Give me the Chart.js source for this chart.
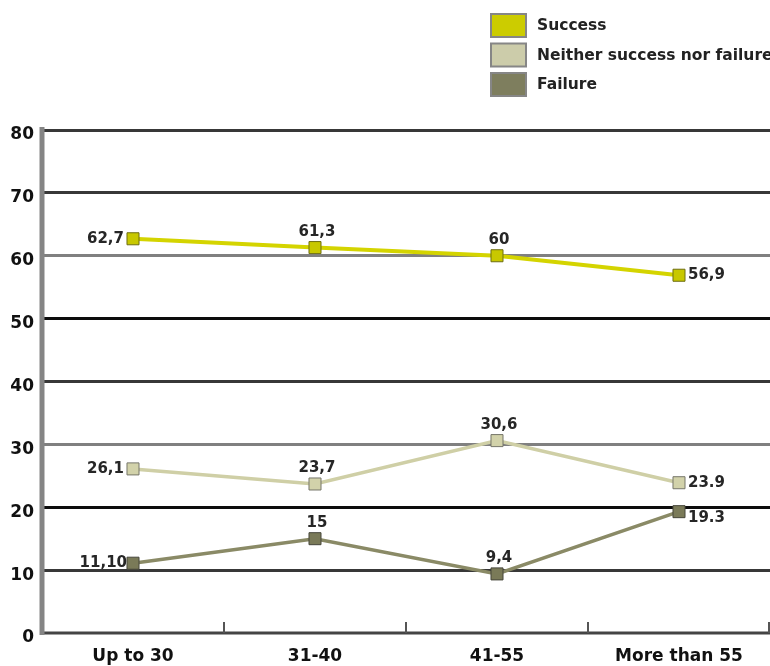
<!DOCTYPE html>
<html>
<head>
<meta charset="utf-8">
<script src="https://cdn.jsdelivr.net/npm/chart.js@4.4.1/dist/chart.umd.min.js"></script>
<style>
  html, body { margin: 0; padding: 0; background: #fff; overflow: hidden; }
  #wrap { width: 770px; height: 666px; }
</style>
</head>
<body>
<div id="wrap"><canvas id="chart"></canvas></div>
<script>
const ageGroups = ["Up to 30", "31-40", "41-55", "More than 55"];
const seriesNames = ["Success", "Neither success nor failure", "Failure"];
const successValues = [62.7, 61.3, 60, 56.9];
const neitherValues = [26.1, 23.7, 30.6, 23.9];
const failureValues = [11.1, 15, 9.4, 19.3];
const successLabels = ["62,7", "61,3", "60", "56,9"];
const neitherLabels = ["26,1", "23,7", "30,6", "23.9"];
const failureLabels = ["11,10", "15", "9,4", "19.3"];
const yTicks = [0, 10, 20, 30, 40, 50, 60, 70, 80];

const FONT = "'DejaVu Sans', Verdana, sans-serif";

// colours per series: line, marker fill, marker border
const palette = [
  { line: "#d4d400", fill: "#c8c800", border: "#6e6e10", width: 4 },
  { line: "#cfcfa6", fill: "#d2d2aa", border: "#76766a", width: 3.5 },
  { line: "#8a8a66", fill: "#7a7a58", border: "#46463a", width: 3.5 },
];
const legendFills = ["#cccc00", "#ccccaa", "#7e7e5e"];

// grid line colour for each y tick value
function gridColor(v) {
  if (v === 0) return "rgba(0,0,0,0)";
  if (v === 20 || v === 50) return "#0c0c0c";
  if (v === 60 || v === 30) return "#808080";
  return "#383838";
}

function makeSet(i, values, labels) {
  return {
    label: seriesNames[i],
    data: values,
    valueLabels: labels,
    borderColor: palette[i].line,
    borderWidth: palette[i].width,
    pointStyle: "rect",
    pointRadius: 8.5,
    pointHoverRadius: 8.5,
    pointBackgroundColor: palette[i].fill,
    pointBorderColor: palette[i].border,
    pointBorderWidth: 1,
    tension: 0,
  };
}

// value labels beside each point
const valueLabelPlugin = {
  id: "valueLabels",
  afterDatasetsDraw(chart) {
    const ctx = chart.ctx;
    ctx.save();
    ctx.font = "bold 15px " + FONT;
    ctx.fillStyle = "#262626";
    chart.data.datasets.forEach((ds, di) => {
      const meta = chart.getDatasetMeta(di);
      const last = meta.data.length - 1;
      meta.data.forEach((pt, i) => {
        const txt = ds.valueLabels[i];
        if (i === 0) {
          ctx.textAlign = "right";
          ctx.textBaseline = "middle";
          ctx.fillText(txt, pt.x - (di === 2 ? 6 : 9), pt.y);
        } else if (i === last) {
          ctx.textAlign = "left";
          ctx.textBaseline = "middle";
          ctx.fillText(txt, pt.x + 9, di === 2 ? pt.y + 6 : pt.y);
        } else {
          ctx.textAlign = "center";
          ctx.textBaseline = "bottom";
          ctx.fillText(txt, pt.x + 2, pt.y - 8);
        }
      });
    });
    ctx.restore();
  }
};

// thick left axis, bottom axis and short upward category ticks
const axisPlugin = {
  id: "axisLines",
  beforeDatasetsDraw(chart) {
    const ctx = chart.ctx;
    const area = chart.chartArea;
    const x = chart.scales.x;
    ctx.save();
    ctx.lineWidth = 3;
    ctx.strokeStyle = "#444";
    ctx.beginPath();
    ctx.moveTo(area.left, area.bottom);
    ctx.lineTo(area.right, area.bottom);
    ctx.stroke();
    ctx.lineWidth = 2;
    ctx.strokeStyle = "#555";
    for (let i = 0; i < ageGroups.length; i++) {
      const bx = i < ageGroups.length - 1
        ? (x.getPixelForValue(i) + x.getPixelForValue(i + 1)) / 2
        : area.right - 1;
      ctx.beginPath();
      ctx.moveTo(bx, area.bottom);
      ctx.lineTo(bx, area.bottom - 11);
      ctx.stroke();
    }
    ctx.lineWidth = 5;
    ctx.strokeStyle = "#858585";
    ctx.beginPath();
    ctx.moveTo(area.left, area.top - 3);
    ctx.lineTo(area.left, area.bottom + 2);
    ctx.stroke();
    ctx.restore();
  }
};

// vertical legend in the top right corner
const legendPlugin = {
  id: "sideLegend",
  afterDraw(chart) {
    const ctx = chart.ctx;
    ctx.save();
    ctx.font = "bold 15.5px " + FONT;
    ctx.textAlign = "left";
    ctx.textBaseline = "middle";
    seriesNames.forEach((name, i) => {
      const y = 13 + i * 29.5;
      ctx.fillStyle = "#868686";
      ctx.fillRect(490, y, 37, 25);
      ctx.fillStyle = legendFills[i];
      ctx.fillRect(492, y + 2, 33, 21);
      ctx.fillStyle = "#222";
      ctx.fillText(name, 537, y + 13);
    });
    ctx.restore();
  }
};

new Chart(document.getElementById("chart"), {
  type: "line",
  data: {
    labels: ageGroups,
    datasets: [
      makeSet(0, successValues, successLabels),
      makeSet(1, neitherValues, neitherLabels),
      makeSet(2, failureValues, failureLabels),
    ],
  },
  options: {
    responsive: true,
    maintainAspectRatio: false,
    animation: false,
    layout: {
      autoPadding: false,
      padding: { top: 130, right: 0, left: 0, bottom: 0 },
    },
    plugins: {
      legend: { display: false },
      tooltip: { enabled: false },
    },
    scales: {
      x: {
        offset: true,
        grid: { display: false, drawTicks: false },
        border: { display: false },
        afterFit(scale) {
          scale.height = 33;
          scale.paddingLeft = 0;
          scale.paddingRight = 0;
        },
        ticks: {
          color: "#111",
          padding: 13,
          font: { family: FONT, size: 17, weight: "bold" },
        },
      },
      y: {
        min: 0,
        max: 80,
        afterBuildTicks(scale) {
          scale.ticks = yTicks.map(v => ({ value: v }));
        },
        afterFit(scale) { scale.width = 42; },
        grid: {
          color: ctx => gridColor(ctx.tick.value),
          lineWidth: 3,
          drawTicks: false,
        },
        border: { display: false },
        ticks: {
          color: "#111",
          padding: 8,
          labelOffset: 5,
          font: { family: FONT, size: 17, weight: "bold" },
        },
      },
    },
  },
  plugins: [axisPlugin, valueLabelPlugin, legendPlugin],
});
</script>
</body>
</html>
